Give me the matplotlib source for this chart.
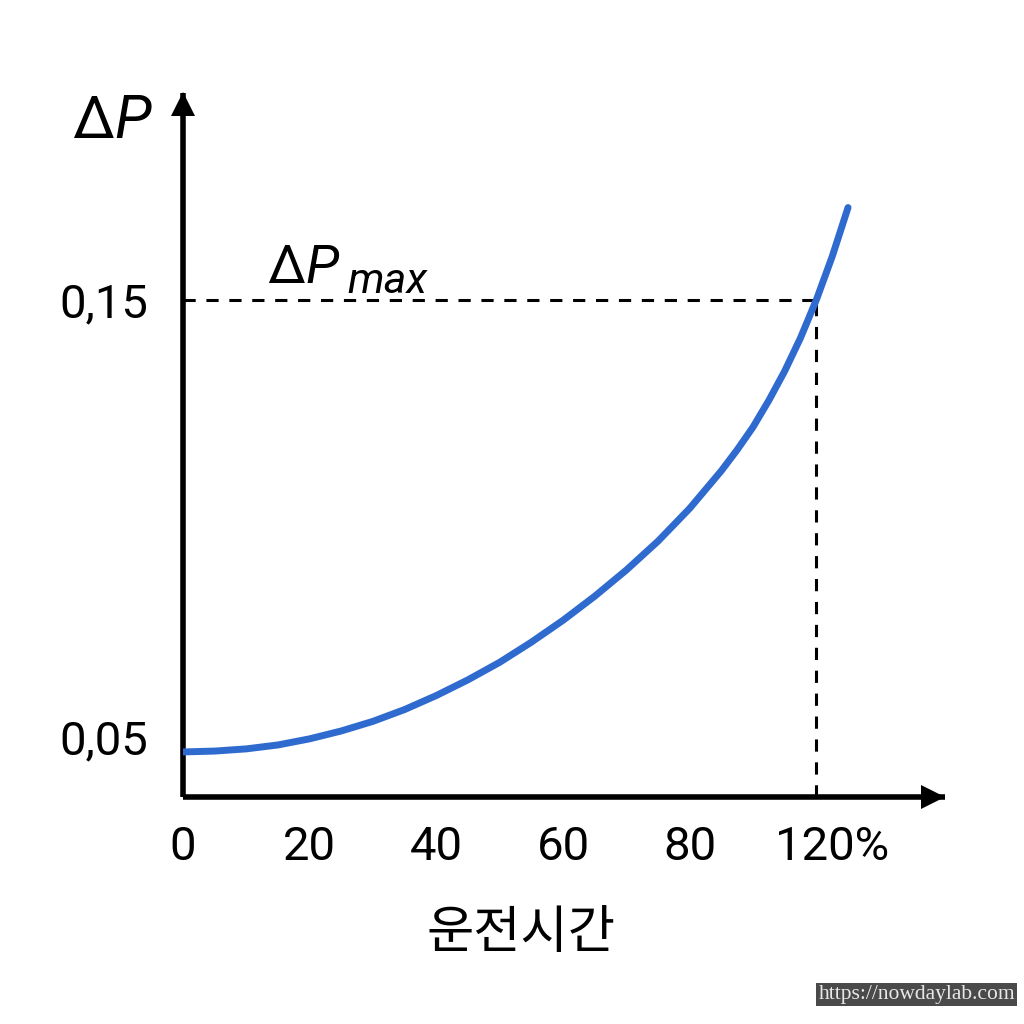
"""Pressure drop vs operating time sketch"""
import matplotlib
matplotlib.use("Agg")
import matplotlib.pyplot as plt
from matplotlib.transforms import ScaledTranslation

plt.rcParams['font.family'] = ['Roboto', 'Noto Sans CJK KR', 'DejaVu Sans']
plt.rcParams['mathtext.fontset'] = 'custom'
plt.rcParams['mathtext.rm'] = 'Roboto'
plt.rcParams['mathtext.it'] = 'Roboto:italic'

# curve (x in axis position units, y = delta P)
time_pos = [0, 5, 10, 15, 20, 25, 30, 35, 40, 45, 50,
            55, 60, 65, 70, 75, 80, 85, 87.5, 90, 92.5, 95, 97.5, 100, 102.5, 105]
delta_p = [0.0466, 0.0468, 0.0473, 0.0482, 0.0496, 0.0514, 0.0536, 0.0563, 0.0595, 0.0631, 0.0671,
           0.0717, 0.0767, 0.0822, 0.0882, 0.0948, 0.1023, 0.1109, 0.1157, 0.1209, 0.1270,
           0.1337, 0.1413, 0.1500, 0.1599, 0.1711]

tick_pos = [0, 20, 40, 60, 80, 100]
tick_labels = ['0', '20', '40', '60', '80', '120%']
y_ticks = [0.05, 0.15]
y_labels = ['0,05', '0,15']
dp_max = 0.15
x_at_max = 100
y_bottom, y_top = 0.0363, 0.1973

fig = plt.figure(figsize=(10.24, 10.24), dpi=100)
ax = fig.add_axes([0.1787, 0.2217, 0.7441, 0.6875])
ax.set_xlim(0, 120.3)
ax.set_ylim(y_bottom, y_top)

for side in ['top', 'right']:
    ax.spines[side].set_visible(False)
for side in ['left', 'bottom']:
    ax.spines[side].set_linewidth(4)
    ax.spines[side].set_capstyle('butt')

# arrow heads, tips sitting on the axes ends
px = 1 / 100
ax.plot(1, 0, '>', color='black', markersize=17, mew=0, clip_on=False,
        transform=ax.transAxes + ScaledTranslation(-11.5 * px, 0, fig.dpi_scale_trans))
ax.plot(0, 1, '^', color='black', markersize=17, mew=0, clip_on=False,
        transform=ax.transAxes + ScaledTranslation(0, -11.5 * px, fig.dpi_scale_trans))

ax.plot(time_pos, delta_p, color='#2f6bcf', linewidth=5, solid_capstyle='round',
        solid_joinstyle='round', zorder=3)

# dashed guide lines at dP max
dash = (0, (4, 3.5))
ax.plot([0, x_at_max], [dp_max, dp_max], color='black', linestyle=dash, linewidth=2.2)
ax.plot([x_at_max, x_at_max], [y_bottom, dp_max], color='black', linestyle=dash, linewidth=2.2)

ax.set_xticks(tick_pos)
ax.set_xticklabels(tick_labels, fontsize=34)
ax.set_yticks(y_ticks)
ax.set_yticklabels(y_labels, fontsize=34)
ax.tick_params(axis='both', length=0)
ax.tick_params(axis='x', pad=20)
ax.tick_params(axis='y', pad=25)
# the "%" trails the 120 label
last = ax.get_xticklabels()[-1]
last.set_transform(last.get_transform() + ScaledTranslation(0.16, 0, fig.dpi_scale_trans))

ax.text(-0.146, 1.0, r'$\Delta P$', transform=ax.transAxes, fontsize=43,
        ha='left', va='top')
ax.text(13.2, 0.1539, r'$\Delta P$', fontsize=39, ha='left', va='baseline')
ax.text(26.0, 0.1516, 'max', fontsize=31, style='italic', ha='left', va='baseline')

ax.set_xlabel('운전시간', fontsize=37, family=['Noto Sans CJK KR', 'DejaVu Sans'])
ax.xaxis.set_label_coords(0.443, -0.155)

# watermark
fig.text(0.9912, 0.0195, 'https://nowdaylab.com', fontsize=15.5, color='#e8e8e8',
         family=['Liberation Serif', 'DejaVu Serif'], ha='right', va='bottom',
         bbox=dict(boxstyle='square,pad=0.1', facecolor='#4a4a4a', edgecolor='none'))

fig.savefig('out.png', dpi=100, facecolor='white')
